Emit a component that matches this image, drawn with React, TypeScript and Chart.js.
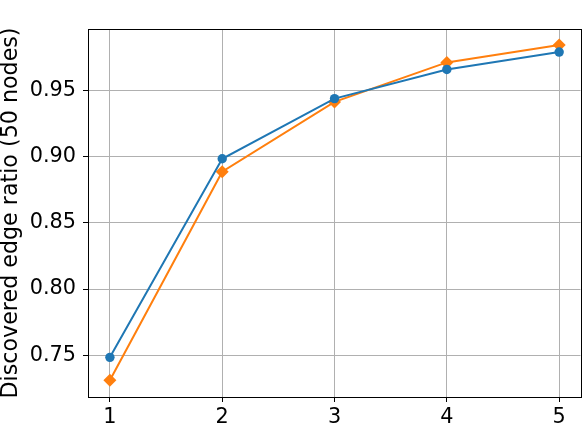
import React, { useEffect, useRef } from "react";
import { Chart, registerables } from "chart.js";

Chart.register(...registerables);

const xValues = [1, 2, 3, 4, 5];
const seriesA = [0.7485, 0.8983, 0.9437, 0.9657, 0.9788];
const seriesB = [0.7313, 0.8885, 0.9412, 0.971, 0.9841];
const yTicks = [0.75, 0.8, 0.85, 0.9, 0.95];
const xTicks = [1, 2, 3, 4, 5];
const yTitle = "Discovered edge ratio (50 nodes)";

const FONT = "'DejaVu Sans', sans-serif";

const frame = {
  id: "frame",
  afterDatasetsDraw(chart: any) {
    const { ctx, chartArea } = chart;
    ctx.save();
    ctx.strokeStyle = "#000";
    ctx.lineWidth = 1;
    ctx.strokeRect(
      Math.round(chartArea.left) + 0.5,
      Math.round(chartArea.top) + 0.5,
      Math.round(chartArea.right - chartArea.left),
      Math.round(chartArea.bottom - chartArea.top)
    );
    ctx.restore();
  },
};

export default function App() {
  const ref = useRef<HTMLCanvasElement>(null);
  useEffect(() => {
    if (!ref.current) return;
    const chart = new Chart(ref.current, {
      type: "line",
      data: {
        datasets: [
          {
            data: xValues.map((x, i) => ({ x, y: seriesA[i] })),
            borderColor: "#1f77b4",
            backgroundColor: "#1f77b4",
            borderWidth: 2,
            pointStyle: "circle",
            pointRadius: 4.7,
            pointBorderWidth: 0,
            fill: false,
          },
          {
            data: xValues.map((x, i) => ({ x, y: seriesB[i] })),
            borderColor: "#ff7f0e",
            backgroundColor: "#ff7f0e",
            borderWidth: 2,
            pointStyle: "rectRot",
            pointRadius: 6.5,
            pointBorderWidth: 0,
            fill: false,
          },
        ],
      },
      options: {
        responsive: false,
        animation: false,
        layout: { padding: { left: 0, right: 4, top: 29, bottom: 0 } },
        plugins: { legend: { display: false }, tooltip: { enabled: false } },
        scales: {
          x: {
            type: "linear",
            min: 0.805,
            max: 5.19,
            afterBuildTicks: (s: any) => {
              s.ticks = xTicks.map((v) => ({ value: v }));
            },
            afterFit: (s: any) => {
              s.height = 33;
            },
            grid: { color: "#b0b0b0", lineWidth: 1, drawTicks: true, tickLength: 5, tickColor: "#000" },
            border: { display: true, color: "#000", width: 1 },
            ticks: {
              color: "#000",
              padding: 3,
              font: { family: FONT, size: 20.8 },
              callback: (v: any) => String(v),
              maxRotation: 0,
            },
          },
          y: {
            type: "linear",
            min: 0.7186,
            max: 0.9962,
            afterBuildTicks: (s: any) => {
              s.ticks = yTicks.map((v) => ({ value: v }));
            },
            afterFit: (s: any) => {
              s.width = 88;
            },
            grid: { color: "#b0b0b0", lineWidth: 1, drawTicks: true, tickLength: 5, tickColor: "#000" },
            border: { display: true, color: "#000", width: 1 },
            ticks: {
              color: "#000",
              padding: 7,
              font: { family: FONT, size: 20.8 },
              callback: (v: any) => Number(v).toFixed(2),
            },
            title: {
              display: true,
              text: yTitle,
              color: "#000",
              font: { family: FONT, size: 22.2, lineHeight: 1.2 },
              padding: { top: -2, bottom: 0 },
            },
          },
        },
      },
      plugins: [frame],
    });
    return () => chart.destroy();
  }, []);
  return (
    <div style={{ position: "absolute", left: 0, top: 0, width: 587, height: 430, background: "#fff" }}>
      <canvas ref={ref} width={587} height={430} />
    </div>
  );
}
